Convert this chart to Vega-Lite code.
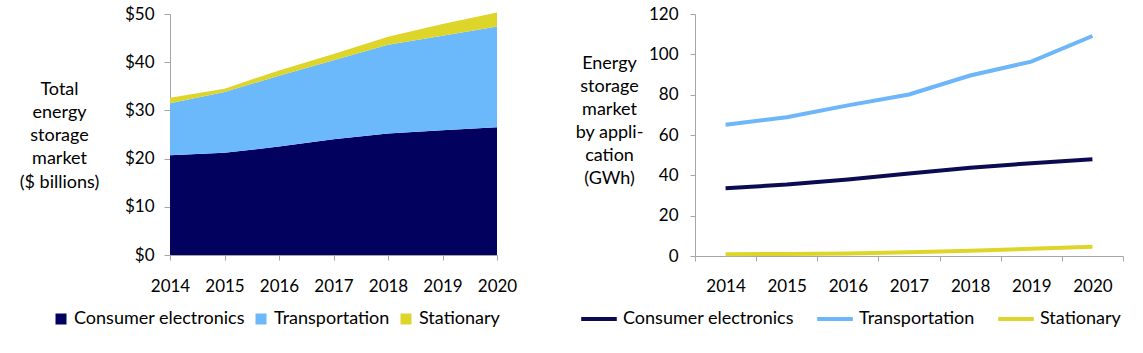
{
  "$schema": "https://vega.github.io/schema/vega-lite/v6.json",
  "background": "white",
  "padding": {"left": 19, "top": 5, "right": 0, "bottom": 0},
  "spacing": 57,
  "config": {
    "view": {"stroke": null},
    "font": "Lato",
    "axis": {"grid": false, "domainColor": "#A6A6A6", "tickColor": "#A6A6A6", "labelColor": "#000000", "labelFontSize": 17, "labelFont": "Lato", "titleFont": "Lato", "titleColor": "#000000", "titleFontWeight": "normal", "titleFontSize": 18},
    "legend": {"labelFont": "Lato", "labelFontSize": 18, "labelColor": "#000000", "labelLimit": 0}
  },
  "datasets": {
    "money": [
      {"year": "2014", "series": "Consumer electronics", "k": 1, "value": 20.7},
      {"year": "2015", "series": "Consumer electronics", "k": 1, "value": 21.2},
      {"year": "2016", "series": "Consumer electronics", "k": 1, "value": 22.5},
      {"year": "2017", "series": "Consumer electronics", "k": 1, "value": 24.0},
      {"year": "2018", "series": "Consumer electronics", "k": 1, "value": 25.2},
      {"year": "2019", "series": "Consumer electronics", "k": 1, "value": 25.9},
      {"year": "2020", "series": "Consumer electronics", "k": 1, "value": 26.5},
      {"year": "2014", "series": "Transportation", "k": 2, "value": 10.8},
      {"year": "2015", "series": "Transportation", "k": 2, "value": 12.6},
      {"year": "2016", "series": "Transportation", "k": 2, "value": 14.7},
      {"year": "2017", "series": "Transportation", "k": 2, "value": 16.4},
      {"year": "2018", "series": "Transportation", "k": 2, "value": 18.4},
      {"year": "2019", "series": "Transportation", "k": 2, "value": 19.6},
      {"year": "2020", "series": "Transportation", "k": 2, "value": 20.9},
      {"year": "2014", "series": "Stationary", "k": 3, "value": 1.1},
      {"year": "2015", "series": "Stationary", "k": 3, "value": 0.7},
      {"year": "2016", "series": "Stationary", "k": 3, "value": 1.1},
      {"year": "2017", "series": "Stationary", "k": 3, "value": 1.3},
      {"year": "2018", "series": "Stationary", "k": 3, "value": 1.7},
      {"year": "2019", "series": "Stationary", "k": 3, "value": 2.4},
      {"year": "2020", "series": "Stationary", "k": 3, "value": 2.9}
    ],
    "gwh": [
      {"year": "2014", "series": "Consumer electronics", "value": 33.6},
      {"year": "2015", "series": "Consumer electronics", "value": 35.4},
      {"year": "2016", "series": "Consumer electronics", "value": 37.9},
      {"year": "2017", "series": "Consumer electronics", "value": 40.9},
      {"year": "2018", "series": "Consumer electronics", "value": 43.8},
      {"year": "2019", "series": "Consumer electronics", "value": 46.0},
      {"year": "2020", "series": "Consumer electronics", "value": 48.0},
      {"year": "2014", "series": "Transportation", "value": 65.1},
      {"year": "2015", "series": "Transportation", "value": 68.8},
      {"year": "2016", "series": "Transportation", "value": 74.7},
      {"year": "2017", "series": "Transportation", "value": 80.1},
      {"year": "2018", "series": "Transportation", "value": 89.5},
      {"year": "2019", "series": "Transportation", "value": 96.4},
      {"year": "2020", "series": "Transportation", "value": 109.1},
      {"year": "2014", "series": "Stationary", "value": 0.9},
      {"year": "2015", "series": "Stationary", "value": 1.0},
      {"year": "2016", "series": "Stationary", "value": 1.3},
      {"year": "2017", "series": "Stationary", "value": 1.8},
      {"year": "2018", "series": "Stationary", "value": 2.6},
      {"year": "2019", "series": "Stationary", "value": 3.6},
      {"year": "2020", "series": "Stationary", "value": 4.6}
    ]
  },
  "resolve": {"scale": {"color": "independent"}, "legend": {"color": "independent"}},
  "hconcat": [
    {
      "width": 327,
      "height": 241,
      "data": {"name": "money"},
      "mark": {"type": "area"},
      "encoding": {
        "x": {"field": "year", "type": "ordinal", "scale": {"type": "point", "padding": 0},
          "axis": {"title": null, "labelAngle": 0, "tickSize": 5, "labelPadding": 18}},
        "y": {"field": "value", "type": "quantitative", "stack": "zero", "scale": {"domain": [0, 50], "nice": false},
          "axis": {"title": ["Total", "energy", "storage", "market", "($ billions)"], "titleAngle": 0, "titleAlign": "center", "titleBaseline": "top", "titleX": -111, "titleY": 66, "titleLineHeight": 23.3,
            "values": [0, 10, 20, 30, 40, 50], "labelExpr": "'$' + datum.value", "tickSize": 6, "labelPadding": 10}},
        "color": {"field": "series", "type": "nominal",
          "scale": {"domain": ["Consumer electronics", "Transportation", "Stationary"], "range": ["#02025E", "#6BB9FB", "#DED52B"]},
          "legend": {"title": null, "orient": "none", "direction": "horizontal", "legendX": -118, "legendY": 296, "symbolType": "square", "symbolSize": 121, "symbolStrokeWidth": 0, "columnPadding": 7, "labelOffset": 4}},
        "order": {"field": "k", "type": "quantitative"}
      }
    },
    {
      "width": 428,
      "height": 242,
      "data": {"name": "gwh"},
      "mark": {"type": "line", "strokeWidth": 4},
      "encoding": {
        "x": {"field": "year", "type": "ordinal", "bandPosition": 0.5, "scale": {"type": "band", "paddingInner": 0, "paddingOuter": 0},
          "axis": {"title": null, "labelAngle": 0, "tickBand": "extent", "tickSize": 5, "labelPadding": 17}},
        "y": {"field": "value", "type": "quantitative", "scale": {"domain": [0, 120], "nice": false},
          "axis": {"title": ["Energy", "storage", "market", "by appli-", "cation", "(GWh)"], "titleAngle": 0, "titleAlign": "center", "titleBaseline": "top", "titleX": -86, "titleY": 40, "titleLineHeight": 23,
            "values": [0, 20, 40, 60, 80, 100, 120], "tickSize": 5, "labelPadding": 12}},
        "color": {"field": "series", "type": "nominal",
          "scale": {"domain": ["Consumer electronics", "Transportation", "Stationary"], "range": ["#0B0B52", "#6CB6F9", "#DDD629"]},
          "legend": {"title": null, "orient": "none", "direction": "horizontal", "legendX": -116, "legendY": 285, "symbolType": "stroke", "symbolSize": 1267, "symbolStrokeWidth": 4, "columnPadding": 15, "labelOffset": 4}}
      }
    }
  ]
}
